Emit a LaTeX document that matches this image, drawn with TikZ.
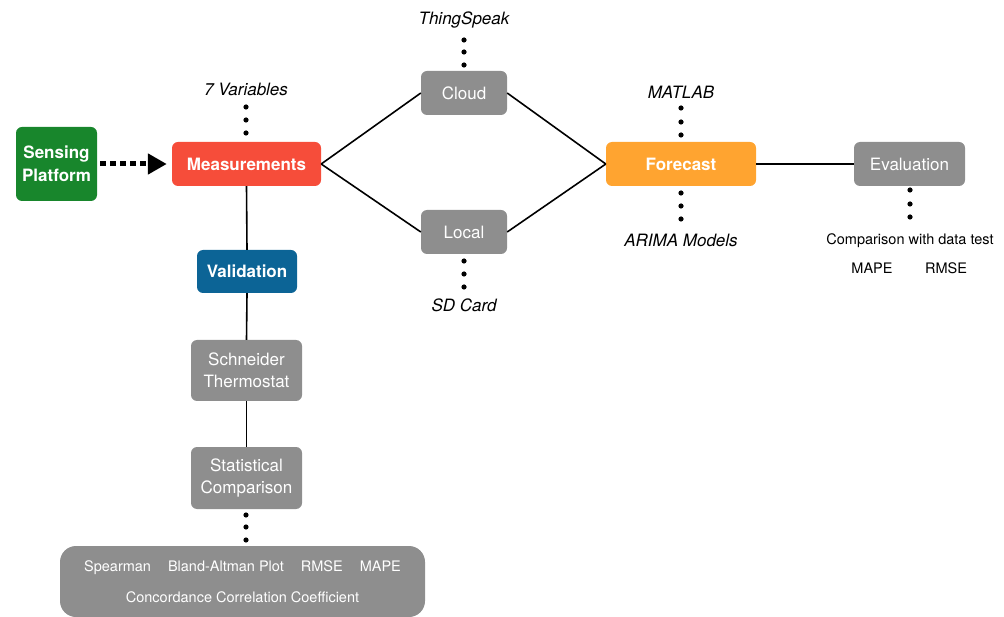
\documentclass[tikz,border=0pt]{standalone}
\usepackage{fontspec}
\setmainfont{TeX Gyre Heros}
\usetikzlibrary{arrows.meta}
\definecolor{cgreen}{RGB}{24,134,44}
\definecolor{cred}{RGB}{246,77,58}
\definecolor{corange}{RGB}{255,164,48}
\definecolor{cblue}{RGB}{12,100,150}
\definecolor{cgray}{RGB}{142,142,142}
\begin{document}
\begin{tikzpicture}[x=1pt,y=-1pt,
  box/.style={rounded corners=6pt, text=white, align=center, inner sep=0pt,
              font=\fontsize{17}{22}\selectfont},
  boldbox/.style={box, font=\fontsize{17}{23}\selectfont\bfseries},
  graybox/.style={box, fill=cgray},
  lbl/.style={font=\fontsize{17}{20}\selectfont\itshape, inner sep=0pt},
  small/.style={font=\fontsize{14.5}{18}\selectfont, inner sep=0pt},
  conn/.style={line width=1.6pt, black},
  dotfill/.style={fill=black}]
\useasboundingbox (0,0) rectangle (1004,617);

% main nodes
\node[boldbox, fill=cgreen, minimum width=81, minimum height=74] (sp) at (56.5,164) {Sensing\\Platform};
\node[boldbox, fill=cred, minimum width=149, minimum height=44] (meas) at (246.5,164) {Measurements};
\node[graybox, minimum width=86, minimum height=44] (cloud) at (464,93) {Cloud};
\node[graybox, minimum width=86, minimum height=44] (local) at (464,232) {Local};
\node[boldbox, fill=corange, minimum width=150, minimum height=44] (fore) at (681,164) {Forecast};
\node[graybox, minimum width=111, minimum height=44] (eval) at (909.5,164) {Evaluation};
\node[boldbox, fill=cblue, minimum width=100, minimum height=43] (valid) at (247,271.5) {Validation};
\node[graybox, minimum width=111, minimum height=61] (schn) at (246.5,370.5) {Schneider\\Thermostat};
\node[graybox, minimum width=111, minimum height=62] (stat) at (246.5,478) {Statistical\\Comparison};
\node[graybox, rounded corners=16pt, minimum width=365, minimum height=71,
      font=\fontsize{14.5}{31}\selectfont] (metrics) at (242.5,581.5)
  {Spearman\hspace{17pt}Bland-Altman Plot\hspace{17pt}RMSE\hspace{17pt}MAPE\\Concordance Correlation Coefficient};

% labels
\node[lbl] (vars) at (246,89) {7 Variables};
\node[lbl] (ts) at (464,20) {ThingSpeak};
\node[lbl] (sd) at (464,305) {SD Card};
\node[lbl] (matlab) at (681,92) {MATLAB};
\node[lbl] (arima) at (681,240) {ARIMA Models};
\node[small] (cmp) at (910,241) {Comparison with data test};
\node[small] (mape) at (872,268) {MAPE};
\node[small] (rmse) at (946,268) {RMSE};

% dots
\foreach \x/\y in {246/107,246/120,246/133,
                   464/40,464/52,464/65,
                   464/261,464/274,464/287,
                   681/108,681/122,681/135,
                   681/193,681/206,681/219,
                   910/190,910/204,910/217,
                   246/515,246/527,246/540}
  \fill[dotfill] (\x,\y) circle (2.6pt);

% connectors
\draw[conn] (meas.east) -- (cloud.west);
\draw[conn] (meas.east) -- (local.west);
\draw[conn] (cloud.east) -- (fore.west);
\draw[conn] (local.east) -- (fore.west);
\draw[conn] (fore.east) -- (eval.west);
\draw[conn] (meas.south) -- (valid.north);
\draw[conn] (valid.south) -- (schn.north);
\draw[conn] (schn.south) -- (stat.north);

% dotted arrow
\draw[line width=5pt, dash pattern=on 6pt off 4pt, shorten <=3pt, shorten >=5pt,
      -{Triangle[length=19pt,width=20pt]}] (sp.east) -- (meas.west);
\end{tikzpicture}
\end{document}
